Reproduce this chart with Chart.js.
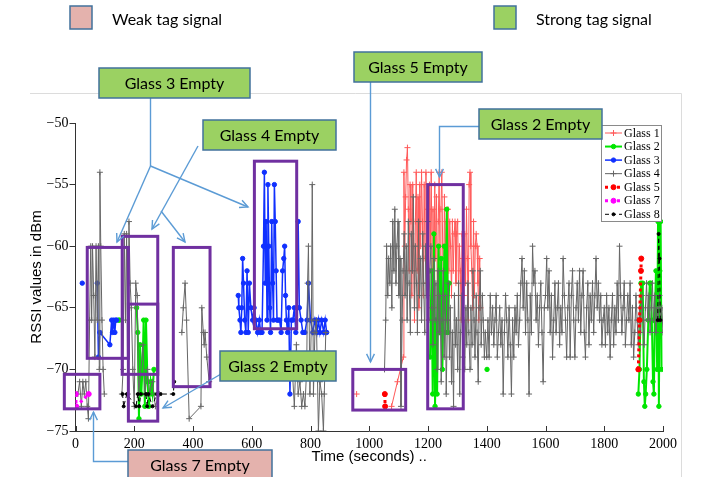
<!DOCTYPE html>
<html>
<head>
<meta charset="utf-8">
<script src="https://cdn.jsdelivr.net/npm/chart.js@4.4.1/dist/chart.umd.min.js"></script>
<style>
  html, body { margin: 0; padding: 0; background: #fff; }
  canvas { display: block; }
</style>
</head>
<body>
<canvas id="c" width="702" height="477"></canvas>
<script>
// Axis ticks
const timeTicks = [0, 200, 400, 600, 800, 1000, 1200, 1400, 1600, 1800, 2000];
const rssiTicks = [-75, -70, -65, -60, -55, -50];

// Glass 1 (null = no reading)
const g1Time = [957, 1010, 1076, 1096, 1116,
  1118, 1121, 1124, 1127, 1130, 1133, 1136, 1139, 1142, 1145,
  1148, 1151, 1154, 1157, 1160, 1163, 1166, 1169, 1172, 1175,
  1178, 1181, 1184, 1187, 1190, 1193, 1196, 1199, 1202, 1205,
  1208, 1211, 1214, 1217, 1220, 1223, 1226, 1229, 1232, 1235,
  1238, 1241, 1244, 1247, 1250, 1253, 1256, 1259, 1262, 1265,
  1268, 1271, 1274, 1277, 1280, 1283, 1286, 1289, 1292, 1295,
  1298, 1301, 1304, 1307, 1310, 1313, 1316, 1319, 1322, 1325,
  1328, 1331, 1334, 1337, 1340, 1343, 1346, 1349, 1352, 1355,
  1358, 1361, 1364, 1367, 1370, 1373, 1376, 1379];
const g1Rssi = [-72, null, -73, -71, -69,
  -54, -60, -56, -53, -52, -57, -62, -55, -58, -64,
  -55, -60, -66, -58, -54, -62, -56, -65, -55, -60,
  -54, -58, -64, -55, -61, -54, -63, -57, -66, -55,
  -60, -54, -62, -57, -64, -55, -61, -56, -65, -58,
  -54, -62, -57, -54, -60, -65, -56, -61, -58, -66,
  -57, -62, -58, -60, -64, -58, -62, -59, -58, -63,
  -59, -58, -64, -60, -62, -66, -59, -61, -64, -59,
  -63, -57, -61, -66, -55, -54, -60, -62, -65, -58,
  -64, -60, -59, -60, -63, -66, -61, -65];

// Glass 2
const g2Time = [146, 150, 180, 208, 212, 216, 220, 224, 228, 232,
  236, 240, 245, 250, 256, 262, 267, 700, 1207, 1212,
  1216, 1220, 1224, 1228, 1231, 1236, 1241, 1245, 1249, 1253,
  1256, 1260, 1264, 1268, 1272, 1340, 1401, 1600, 1916, 1920,
  1925, 1931, 1935, 1938, 1941, 1945, 1950, 1955, 1958, 1962,
  1966, 1969, 1972, 1976, 1980, 1983, 1986, 1989, 1992, 1995];
const g2Rssi = [-66, -66, null, -65, -67, -74, -68, -72, -70, -66,
  -73, -66, -71, -73, -71, -72, -70, null, -69, -62,
  -72, -59, -73, -66, -72, -60, -67, -61, -70, -64,
  -60, -67, -57, -67, -63, null, -70, null, -72, -70,
  -63, -63, -71, -73, -72, -70, -66, -63, -63, -66,
  -71, -72, -66, -62, -70, -58, -73, -62, -58, -70];

// Glass 3
const g3Time = [23, 50, 74, 78, 83, 117, 123, 126, 130, 134,
  137, 140, 300, 554, 556, 560, 563, 566, 569, 572,
  576, 580, 584, 588, 592, 597, 603, 608, 614, 620,
  626, 630, 635, 640, 643, 646, 649, 652, 655, 658,
  661, 664, 668, 671, 674, 677, 680, 683, 686, 690,
  695, 700, 705, 709, 712, 715, 718, 722, 726, 730,
  735, 740, 745, 750, 755, 758, 762, 768, 774, 781,
  788, 793, 800, 808, 815, 822, 827, 832, 838, 845,
  850, 855];
const g3Rssi = [-63, null, -63, -69, -67, -68, -66, -67, -66, -67,
  -66, -66, null, -64, -65, -66, -67, -65, -61, -63,
  -66, -67, -62, -67, -63, -65, -66, -65, -66, -67,
  -66, -67, -67, -60, -54, -63, -58, -66, -55, -60,
  -65, -67, -58, -63, -66, -55, -58, -62, -66, -66,
  -66, -67, -62, -61, -60, -64, -66, -67, -65, -72,
  -66, -66, -65, -67, -65, -58, -65, -66, -67, -67,
  -66, -63, -66, -67, -66, -67, -66, -67, -66, -67,
  -66, -67];

// Glass 4
const g4Time = [
  8, 14, 20, 25, 30, 35, 40, 44, 48, 52, 55, 58, 62, 66, 70, 74, 78, 81, 83, 86, 90, 94, 98,
  130,
  158, 162, 166, 170, 174, 178, 182, 186, 190, 195, 200, 205, 210, 215, 230, 236, 245, 252, 262, 272, 285,
  320,
  362, 367, 373, 378, 387, 427, 430, 435, 438, 441, 447, 455,
  600,
  738, 745, 752, 758, 764, 770, 776, 781, 787, 790, 793, 798, 803, 806, 810, 815, 820, 827, 832, 838, 844, 847, 852,
  950,
  1052, 1056, 1059, 1063, 1066, 1070, 1073, 1077, 1080, 1084,
  1087, 1091, 1094, 1098, 1101, 1105, 1108, 1112, 1115, 1119,
  1122, 1126, 1129, 1133, 1136, 1140, 1143, 1147, 1150, 1154,
  1157, 1161, 1164, 1168, 1171, 1175, 1178, 1182, 1185, 1189,
  1192, 1196, 1199, 1203, 1206, 1210, 1213, 1217, 1220, 1224,
  1227, 1231, 1234, 1238, 1241, 1245, 1248, 1252, 1255, 1259,
  1262, 1266, 1269, 1273, 1276, 1280, 1283, 1287, 1290, 1294,
  1297, 1301, 1304, 1308, 1311, 1315, 1318, 1322, 1325, 1329,
  1332, 1336, 1339, 1343, 1346, 1350, 1353, 1357, 1360, 1364,
  1367, 1371, 1374, 1378, 1381, 1385, 1388, 1392, 1395, 1400,
  1404, 1408, 1412, 1416, 1420, 1424, 1428, 1432, 1436, 1440,
  1444, 1448, 1452, 1456, 1460, 1464, 1468, 1472, 1476, 1480,
  1484, 1488, 1492, 1496, 1500, 1504, 1508, 1512, 1516, 1520,
  1524, 1528, 1532, 1536, 1540, 1544, 1548, 1552, 1556, 1560,
  1564, 1568, 1572, 1576, 1580, 1584, 1588, 1592, 1596, 1600,
  1604, 1608, 1612, 1616, 1620, 1624, 1628, 1632, 1636, 1640,
  1644, 1648, 1652, 1656, 1660, 1664, 1668, 1672, 1676, 1680,
  1684, 1688, 1692, 1696, 1700, 1704, 1708, 1712, 1716, 1720,
  1724, 1728, 1732, 1736, 1740, 1744, 1748, 1752, 1756, 1760,
  1764, 1768, 1772, 1776, 1780, 1784, 1788, 1792, 1796, 1800,
  1804, 1808, 1812, 1816, 1820, 1824, 1828, 1832, 1836, 1840,
  1844, 1848, 1852, 1856, 1860, 1864, 1868, 1872, 1876, 1880,
  1884, 1888, 1892, 1896, 1900, 1904, 1908, 1912, 1916, 1920,
  1924, 1928, 1932, 1936, 1940, 1944, 1948, 1952, 1956, 1960,
  1964, 1968, 1972, 1976, 1980, 1984, 1988, 1992, 1996, 2000];
const g4Rssi = [
  -72, -71, -73, -71, -72, -71, -73, -74, -66, -60, -66, -60, -64, -69, -60, -66, -60, -70, -54, -60, -66, -70, -72,
  null,
  -72, -70, -59, -66, -59, -72, -58, -63, -65, -70, -73, -63, -64, -72, -68, -72, -70, -72, -71, -73, -72,
  null,
  -67, -65, -63, -66, -74, -73, -65, -67, -68, -67, -69, -71,
  null,
  -70, -73, -68, -72, -71, -73, -72, -73, -70, -63, -60, -72, -66, -55, -72, -67, -66, -75, -71, -72, -75, -72, -67,
  null,
  -70, -66, -60, -64, -61, -63, -60, -65, -58, -62,
  -57, -63, -60, -58, -64, -61, -73, -66, -62, -59,
  -64, -60, -66, -58, -63, -67, -59, -62, -56, -65,
  -60, -63, -67, -58, -64, -61, -66, -59, -63, -67,
  -60, -64, -58, -66, -62, -60, -65, -68, -61, -66,
  -63, -70, -62, -67, -64, -71, -66, -62, -69, -64,
  -72, -66, -63, -69, -65, -71, -67, -73, -64, -68,
  -66, -70, -63, -72, -67, -64, -69, -66, -70, -65,
  -68, -63, -67, -70, -65, -68, -62, -66, -69, -64,
  -67, -71, -65, -62, -68, -64, -66, -69, -67, -69,
  -66, -69, -64, -67, -65, -68, -66, -64, -69, -67,
  -65, -68, -66, -72, -67, -64, -66, -69, -65, -68,
  -72, -66, -69, -65, -67, -64, -68, -66, -63, -61,
  -65, -62, -67, -63, -66, -72, -64, -67, -60, -63,
  -62, -66, -64, -68, -65, -63, -67, -71, -65, -64,
  -61, -65, -62, -67, -64, -69, -66, -63, -67, -65,
  -63, -68, -65, -67, -61, -64, -66, -69, -65, -63,
  -69, -64, -62, -66, -69, -65, -63, -66, -62, -67,
  -64, -62, -67, -69, -65, -63, -68, -64, -66, -63,
  -67, -64, -61, -65, -63, -66, -64, -68, -66, -65,
  -68, -64, -67, -65, -69, -66, -64, -68, -65, -67,
  -63, -66, -60, -64, -67, -65, -63, -68, -66, -64,
  -66, -63, -68, -65, -69, -67, -64, -66, -68, -65,
  -67, -64, -66, -68, -65, -63, -66, -64, -67, -65,
  -63, -66, -64, -67, -65, -66, -64, -66, -65, -67];

// Glass 5
const g5Time = [1053, 1054, 1500, 1916, 1920, 1925, 1926];
const g5Rssi = [-72, -73, null, -70, -66, -62, -61];

// Glass 7
const g7Time = [1, 2, 45];
const g7Rssi = [-72, -73, -72];

// Glass 8
const g8Time = [160, 164, 175, 206, 212, 217, 222, 240, 244, 248,
  262, 276, 290, 333, 336, 1000, 1982, 1985, 1988, 1991];
const g8Rssi = [-72, -73, -72, -73, -72, -73, -72, -72, -73, -72,
  -73, -72, -72, -72, -71, null, -66, -59, -61, -66];

const toPoints = (times, values) => times.map((t, i) => ({ x: t, y: values[i] }));

function series(label, times, values, color, width, dash, style, radius) {
  return {
    label,
    data: toPoints(times, values),
    borderColor: color,
    backgroundColor: color,
    borderWidth: width,
    borderDash: dash,
    pointStyle: style,
    pointRadius: radius,
    pointBackgroundColor: color,
    pointBorderColor: color,
    pointBorderWidth: 1,
    tension: 0,
    spanGaps: false
  };
}

const datasets = [
  series('Glass 1', g1Time, g1Rssi, '#ff5a5a', 1, [], 'cross', 3),
  series('Glass 2', g2Time, g2Rssi, '#00e600', 2, [], 'circle', 2.2),
  series('Glass 3', g3Time, g3Rssi, '#1030ff', 1.5, [], 'circle', 2.2),
  series('Glass 4', g4Time, g4Rssi, '#666666', 1, [], 'cross', 3),
  series('Glass 5', g5Time, g5Rssi, '#ff0000', 3, [3, 3], 'circle', 2.5),
  series('Glass 7', g7Time, g7Rssi, '#ff00ff', 3, [3, 3], 'circle', 2.5),
  series('Glass 8', g8Time, g8Rssi, '#000000', 1, [4, 3], 'circle', 1.5)
];
// later glasses are painted over earlier ones
datasets.forEach((d, i) => { d.order = datasets.length - 1 - i; });

// Highlighted periods, in data units: [t0, t1, top dBm, bottom dBm]
const highlightRegions = [
  [40, 180, -60.1, -69.1],
  [159, 280, -59.2, -70.4],
  [180, 280, -64.7, -74.2],
  [-38, 83, -70.4, -73.2],
  [333, 458, -60.1, -71.4],
  [609, 753, -53.1, -66.7],
  [944, 1124, -70.0, -73.3],
  [1199, 1320, -55.0, -73.2]
];

// Callout boxes and their connector lines (page pixels)
const GREEN = '#9bd162', PINK = '#e4b2ad', EDGE = '#41719c', ARROW = '#5b9bd5';
const callouts = [
  { text: 'Glass 3 Empty', x: 99, y: 68, w: 151, h: 30, fill: GREEN },
  { text: 'Glass 4 Empty', x: 203, y: 120, w: 133, h: 30, fill: GREEN },
  { text: 'Glass 5 Empty', x: 354, y: 52, w: 128, h: 30, fill: GREEN },
  { text: 'Glass 2 Empty', x: 479, y: 109, w: 123, h: 30, fill: GREEN },
  { text: 'Glass 2 Empty', x: 220, y: 351, w: 116, h: 30, fill: GREEN },
  { text: 'Glass 7 Empty', x: 128, y: 450, w: 144, h: 32, fill: PINK }
];
const connectors = [
  { pts: [[150.5, 98], [150.5, 166]], head: false },
  { pts: [[150.5, 166], [117, 242]], head: true },
  { pts: [[150.5, 166], [248, 207]], head: true },
  { pts: [[198, 146], [152, 229]], head: true },
  { pts: [[161, 211], [185, 242]], head: true },
  { pts: [[370.5, 82], [370.5, 362]], head: true },
  { pts: [[479, 126.5], [439.5, 126.5], [439.5, 177]], head: true },
  { pts: [[221, 374], [163, 408]], head: true },
  { pts: [[128, 461.5], [93.5, 461.5], [93.5, 412]], head: true }
];
const keyItems = [
  { text: 'Weak tag signal', x: 70, y: 6, fill: PINK },
  { text: 'Strong tag signal', x: 494, y: 6, fill: GREEN }
];

function arrowHead(ctx, from, to) {
  const a = Math.atan2(to[1] - from[1], to[0] - from[0]);
  const L = 9, s = 0.45;
  ctx.beginPath();
  ctx.moveTo(to[0] - L * Math.cos(a - s), to[1] - L * Math.sin(a - s));
  ctx.lineTo(to[0], to[1]);
  ctx.lineTo(to[0] - L * Math.cos(a + s), to[1] - L * Math.sin(a + s));
  ctx.stroke();
}

const decorations = {
  id: 'decorations',
  beforeDraw(chart) {
    const ctx = chart.ctx;
    ctx.save();
    ctx.fillStyle = '#fff';
    ctx.fillRect(0, 0, chart.width, chart.height);
    // figure frame
    ctx.strokeStyle = '#dcdcdc';
    ctx.lineWidth = 1;
    ctx.beginPath();
    ctx.moveTo(30, 93.5);
    ctx.lineTo(681.5, 93.5);
    ctx.lineTo(681.5, 477);
    ctx.stroke();
    ctx.restore();
  },
  beforeDatasetsDraw(chart) {
    // inward tick marks on the time axis
    const { ctx, chartArea, scales: { x } } = chart;
    ctx.save();
    ctx.strokeStyle = '#333';
    ctx.lineWidth = 1;
    ctx.beginPath();
    x.ticks.forEach(t => {
      const px = Math.round(x.getPixelForValue(t.value)) + 0.5;
      ctx.moveTo(px, chartArea.bottom);
      ctx.lineTo(px, chartArea.bottom - 5);
    });
    ctx.stroke();
    ctx.restore();
  },
  afterDatasetsDraw(chart) {
    // series legend
    const ctx = chart.ctx;
    const bx = 601.5, by = 125.5, bw = 60, bh = 96;
    ctx.save();
    ctx.fillStyle = '#fff';
    ctx.fillRect(bx, by, bw, bh);
    ctx.strokeStyle = '#8a8a8a';
    ctx.lineWidth = 1;
    ctx.strokeRect(bx, by, bw, bh);
    ctx.font = '12px "Liberation Serif"';
    ctx.textBaseline = 'middle';
    chart.data.datasets.forEach((ds, i) => {
      const y = by + 7.5 + i * 13.55;
      ctx.save();
      ctx.strokeStyle = ds.borderColor;
      ctx.lineWidth = ds.borderWidth;
      ctx.setLineDash(ds.borderDash);
      ctx.beginPath();
      ctx.moveTo(605, y);
      ctx.lineTo(622, y);
      ctx.stroke();
      ctx.setLineDash([]);
      ctx.fillStyle = ds.pointBackgroundColor;
      ctx.strokeStyle = ds.pointBorderColor;
      ctx.lineWidth = 1;
      Chart.helpers.drawPoint(ctx, { pointStyle: ds.pointStyle, radius: ds.pointRadius, rotation: 0, borderWidth: 1 }, 613.5, y);
      ctx.restore();
      ctx.fillStyle = '#000';
      ctx.fillText(ds.label, 624, y + 0.5);
    });
    ctx.restore();
  },
  afterDraw(chart) {
    const { ctx, scales: { x, y } } = chart;
    ctx.save();
    // highlighted periods
    ctx.strokeStyle = '#7030a0';
    ctx.lineWidth = 3;
    highlightRegions.forEach(([t0, t1, v0, v1]) => {
      const x0 = x.getPixelForValue(t0), x1 = x.getPixelForValue(t1);
      const y0 = y.getPixelForValue(v0), y1 = y.getPixelForValue(v1);
      ctx.strokeRect(x0, y0, x1 - x0, y1 - y0);
    });
    // connectors
    ctx.strokeStyle = ARROW;
    ctx.lineWidth = 1.4;
    connectors.forEach(c => {
      ctx.beginPath();
      c.pts.forEach((p, i) => i ? ctx.lineTo(p[0], p[1]) : ctx.moveTo(p[0], p[1]));
      ctx.stroke();
      if (c.head) arrowHead(ctx, c.pts[c.pts.length - 2], c.pts[c.pts.length - 1]);
    });
    // callout boxes
    ctx.font = '16px Lato';
    ctx.textAlign = 'center';
    ctx.textBaseline = 'middle';
    callouts.forEach(b => {
      ctx.fillStyle = b.fill;
      ctx.fillRect(b.x, b.y, b.w, b.h);
      ctx.strokeStyle = EDGE;
      ctx.lineWidth = 1.5;
      ctx.strokeRect(b.x, b.y, b.w, b.h);
      ctx.fillStyle = '#000';
      ctx.fillText(b.text, b.x + b.w / 2, b.y + 15.5);
    });
    // signal key
    ctx.textAlign = 'left';
    keyItems.forEach(k => {
      ctx.fillStyle = k.fill;
      ctx.fillRect(k.x, k.y, 22, 23);
      ctx.strokeStyle = EDGE;
      ctx.lineWidth = 1.5;
      ctx.strokeRect(k.x, k.y, 22, 23);
      ctx.fillStyle = '#000';
      ctx.fillText(k.text, k.x + 42, k.y + 14);
    });
    ctx.restore();
  }
};

new Chart(document.getElementById('c'), {
  type: 'line',
  data: { datasets },
  options: {
    responsive: false,
    animation: false,
    devicePixelRatio: 1,
    layout: { padding: { left: 0, right: 39, top: 123, bottom: 0 } },
    plugins: { legend: { display: false }, tooltip: { enabled: false } },
    scales: {
      x: {
        type: 'linear',
        min: 0,
        max: 2000,
        afterBuildTicks: s => { s.ticks = timeTicks.map(v => ({ value: v })); },
        afterFit: s => { s.height = 46; },
        grid: { drawOnChartArea: false, drawTicks: false },
        border: { display: true, color: '#333', width: 1 },
        ticks: {
          autoSkip: false, maxRotation: 0, padding: 5, color: '#000',
          font: { family: 'Liberation Serif', size: 14 },
          callback: v => String(v)
        },
        title: {
          display: true, text: 'Time (seconds) ..', color: '#000',
          font: { family: 'Liberation Sans', size: 15 },
          padding: { top: 0, bottom: 11 }
        }
      },
      y: {
        type: 'linear',
        min: -75,
        max: -50,
        afterBuildTicks: s => { s.ticks = rssiTicks.map(v => ({ value: v })); },
        afterFit: s => { s.width = 75.5; },
        grid: { drawOnChartArea: false, drawTicks: true, tickLength: 6, color: '#333' },
        border: { display: true, color: '#333', width: 1 },
        ticks: {
          padding: 1, color: '#000',
          font: { family: 'Liberation Serif', size: 14 },
          callback: v => (v < 0 ? '\u2212' + Math.abs(v) : String(v))
        },
        title: {
          display: true, text: 'RSSI values in dBm', color: '#000',
          font: { family: 'Liberation Sans', size: 15 },
          padding: { top: 28, bottom: 0 }
        }
      }
    }
  },
  plugins: [decorations]
});
</script>
</body>
</html>
